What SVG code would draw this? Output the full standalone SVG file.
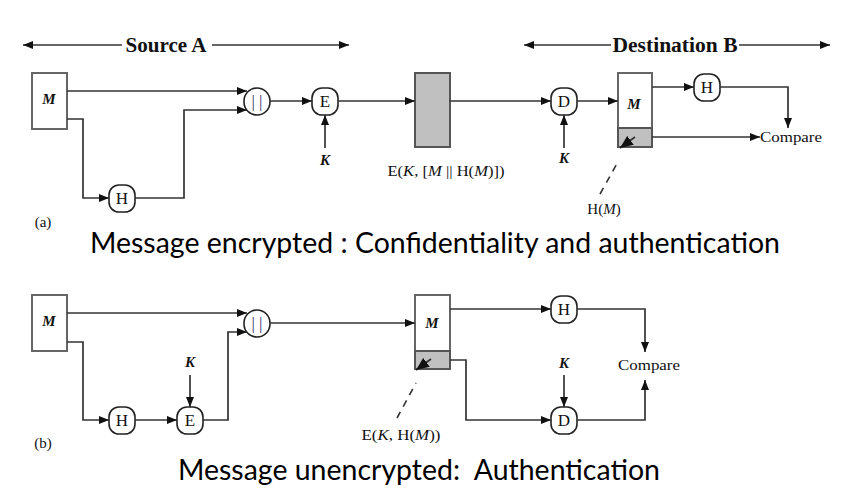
<svg xmlns="http://www.w3.org/2000/svg" width="854" height="499" viewBox="0 0 854 499">
<defs>
<marker id="ah" viewBox="0 0 10 8" refX="10" refY="4" markerWidth="10" markerHeight="8" markerUnits="userSpaceOnUse" orient="auto-start-reverse">
<path d="M0,0 L10,4 L0,8 Z" fill="#111"/>
</marker>
<marker id="ahb" viewBox="0 0 13 11" refX="13" refY="5.5" markerWidth="13" markerHeight="11" markerUnits="userSpaceOnUse" orient="auto">
<path d="M0,0 L13,5.5 L0,11 Z" fill="#111"/>
</marker>
<style>
.ln{fill:none;stroke:#333;stroke-width:1.7}
.ar{fill:none;stroke:#333;stroke-width:1.7;marker-end:url(#ah)}
.arb{fill:none;stroke:#333;stroke-width:1.7;marker-end:url(#ahb)}
.dash{fill:none;stroke:#333;stroke-width:1.6;stroke-dasharray:7,6}
.box{fill:#fff;stroke:#666;stroke-width:2}
.gray{fill:#c0c0c0;stroke:#555;stroke-width:2}
.nd{fill:#fff;stroke:#222;stroke-width:1.6}
.t{font-family:"Liberation Serif","Times New Roman",serif;fill:#111;text-anchor:middle}
.n{font-size:17px}
.bar{fill:#33336e}
.i{font-style:italic}
.b{font-weight:bold}
.hd{font-size:20px;font-weight:bold}
.sm{font-size:15px}
.cap{font-family:Lato,"Open Sans",sans-serif;font-size:28px;fill:#000;white-space:pre}
</style>
</defs>
<rect width="854" height="499" fill="#fff"/>

<g id="headers">
<line class="ln" x1="23" y1="45" x2="122" y2="45" marker-start="url(#ah)"/>
<text class="t hd" x="166" y="52" textLength="81" lengthAdjust="spacingAndGlyphs">Source A</text>
<line class="ar" x1="212" y1="45" x2="349" y2="45"/>
<line class="ln" x1="524" y1="45" x2="611" y2="45" marker-start="url(#ah)"/>
<text class="t hd" x="675" y="52" textLength="125" lengthAdjust="spacingAndGlyphs">Destination B</text>
<line class="ar" x1="739" y1="45" x2="830" y2="45"/>
</g>

<!-- Part (a) -->
<g id="a-M"><rect class="box" x="32" y="73" width="35" height="56"/><text class="t sm i b" x="49" y="104">M</text></g>
<g id="a-H"><rect class="nd" x="109" y="185" width="26" height="27" rx="10"/><text class="t n" x="122" y="204">H</text></g>
<g id="a-concat"><rect class="nd" x="244" y="88" width="26" height="27" rx="13"/><text class="t n bar" x="257" y="107">| |</text></g>
<g id="a-E"><rect class="nd" x="312" y="88" width="26" height="27" rx="10"/><text class="t n" x="325" y="107">E</text></g>
<g id="a-K1"><text class="t sm i b" x="325" y="165">K</text></g>
<g id="a-cipher"><rect class="gray" x="415" y="73" width="35" height="74"/><text class="t sm" x="446" y="176" textLength="117" lengthAdjust="spacingAndGlyphs">E(<tspan font-style="italic">K</tspan>, [<tspan font-style="italic">M</tspan> || H(<tspan font-style="italic">M</tspan>)])</text></g>
<g id="a-D"><rect class="nd" x="551" y="88" width="26" height="27" rx="10"/><text class="t n" x="564" y="107">D</text></g>
<g id="a-K2"><text class="t sm i b" x="564" y="163">K</text></g>
<g id="a-MB"><rect class="box" x="618" y="73" width="34" height="74"/><rect class="gray" x="618" y="128" width="34" height="19"/><text class="t sm i b" x="634" y="109">M</text></g>
<g id="a-H2"><rect class="nd" x="694" y="74" width="26" height="27" rx="10"/><text class="t n" x="707" y="93">H</text></g>
<g id="a-compare"><text class="t sm" x="791" y="142" textLength="62" lengthAdjust="spacingAndGlyphs">Compare</text></g>
<g id="a-HM"><text class="t sm" x="604" y="214">H(<tspan font-style="italic">M</tspan>)</text></g>
<g id="a-label"><text class="t sm" x="43" y="227">(a)</text></g>

<g id="a-connectors">
<path class="ar" d="M67,91 H247"/>
<path class="ar" d="M67,119 H83 V198 H109"/>
<path class="ar" d="M135,198 H184 V110 H247"/>
<path class="ar" d="M270,101 H312"/>
<path class="ar" d="M325,148 V115"/>
<path class="ar" d="M338,101 H415"/>
<path class="ar" d="M450,101 H551"/>
<path class="ar" d="M564,148 V115"/>
<path class="ar" d="M577,101 H618"/>
<path class="ar" d="M652,87 H694"/>
<path class="ar" d="M720,87 H788 V128"/>
<path class="ar" d="M652,137 H760"/>
<path class="arb" d="M635,137 L620,148"/>
<path class="dash" d="M600,194 L619,160"/>
</g>

<text class="cap" x="90" y="253" textLength="690" lengthAdjust="spacingAndGlyphs">Message encrypted : Confidentiality and authentication</text>

<!-- Part (b) -->
<g id="b-M"><rect class="box" x="32" y="295" width="35" height="56"/><text class="t sm i b" x="49" y="326">M</text></g>
<g id="b-H"><rect class="nd" x="109" y="407" width="26" height="27" rx="10"/><text class="t n" x="122" y="426">H</text></g>
<g id="b-E"><rect class="nd" x="177" y="407" width="26" height="27" rx="10"/><text class="t n" x="190" y="426">E</text></g>
<g id="b-K1"><text class="t sm i b" x="190" y="367">K</text></g>
<g id="b-concat"><rect class="nd" x="244" y="310" width="26" height="27" rx="13"/><text class="t n bar" x="257" y="329">| |</text></g>
<g id="b-MB"><rect class="box" x="415" y="295" width="35" height="74"/><rect class="gray" x="415" y="351" width="35" height="18"/><text class="t sm i b" x="432" y="328">M</text></g>
<g id="b-EKHM"><text class="t sm" x="401" y="440" textLength="79" lengthAdjust="spacingAndGlyphs">E(<tspan font-style="italic">K</tspan>, H(<tspan font-style="italic">M</tspan>))</text></g>
<g id="b-H2"><rect class="nd" x="551" y="296" width="26" height="27" rx="10"/><text class="t n" x="564" y="315">H</text></g>
<g id="b-D"><rect class="nd" x="551" y="407" width="26" height="27" rx="10"/><text class="t n" x="564" y="426">D</text></g>
<g id="b-K2"><text class="t sm i b" x="564" y="368">K</text></g>
<g id="b-compare"><text class="t sm" x="649" y="370" textLength="62" lengthAdjust="spacingAndGlyphs">Compare</text></g>
<g id="b-label"><text class="t sm" x="43" y="448">(b)</text></g>

<g id="b-connectors">
<path class="ar" d="M67,313 H247"/>
<path class="ar" d="M67,342 H83 V420 H109"/>
<path class="ar" d="M135,420 H177"/>
<path class="ar" d="M190,375 V407"/>
<path class="ar" d="M203,420 H228 V332 H247"/>
<path class="ar" d="M270,323 H415"/>
<path class="ar" d="M450,309 H551"/>
<path class="ar" d="M577,309 H645 V352"/>
<path class="ar" d="M450,360 H466 V420 H551"/>
<path class="ar" d="M564,375 V407"/>
<path class="ar" d="M577,420 H645 V380"/>
<path class="arb" d="M431,359 L416,370"/>
<path class="dash" d="M397,418 L416,383"/>
</g>

<text class="cap" x="178" y="480" textLength="482" lengthAdjust="spacingAndGlyphs">Message unencrypted:  Authentication</text>
</svg>
